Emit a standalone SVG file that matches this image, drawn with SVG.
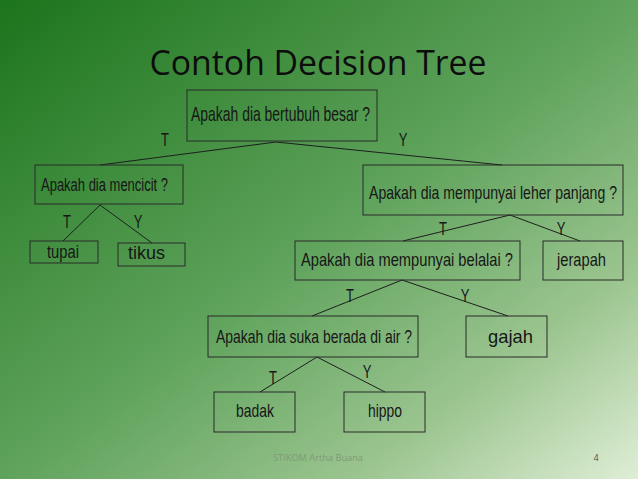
<svg xmlns="http://www.w3.org/2000/svg" width="638" height="479" viewBox="0 0 638 479">
<defs>
<linearGradient id="bg" x1="0" y1="0" x2="1" y2="1" gradientUnits="objectBoundingBox">
<stop offset="0" stop-color="#1c741c"/>
<stop offset="0.5" stop-color="#5fa35c"/>
<stop offset="0.78" stop-color="#9cc590"/>
<stop offset="1" stop-color="#dfeed6"/>
</linearGradient>
<style>
.box{fill:none;stroke:#2a2a2a;stroke-width:1}
.t{font-family:"Liberation Sans",Arial,sans-serif;fill:#161616;text-anchor:middle;font-size:14px}
.big{font-size:17px}
.lbl{font-family:"Liberation Sans",Arial,sans-serif;fill:#161616;text-anchor:middle;font-size:13px}
.ln{stroke:#1e1e1e;stroke-width:1;fill:none}
</style>
</defs>
<rect width="638" height="479" fill="url(#bg)"/>
<text x="318" y="75" font-family="'Open Sans','Liberation Sans',sans-serif" font-size="34" fill="#0d0d0d" text-anchor="middle" textLength="337" lengthAdjust="spacingAndGlyphs">Contoh Decision Tree</text>

<g id="connectors">
<path class="ln" d="M276,142 L100,165 M276,142 L502,165"/>
<path class="ln" d="M100,205 L63,241 M100,205 L152,243"/>
<path class="ln" d="M510,215 L403,241 M510,215 L580,241"/>
<path class="ln" d="M402,280 L312,316 M402,280 L508,316"/>
<path class="ln" d="M317,357 L260,392 M317,357 L385,392"/>
<text class="lbl" transform="translate(165,146) scale(1,1.4)">T</text>
<text class="lbl" transform="translate(403,146) scale(1,1.4)">Y</text>
<text class="lbl" transform="translate(67,228) scale(1,1.4)">T</text>
<text class="lbl" transform="translate(138,228) scale(1,1.4)">Y</text>
<text class="lbl" transform="translate(443,235) scale(1,1.4)">T</text>
<text class="lbl" transform="translate(561,235) scale(1,1.4)">Y</text>
<text class="lbl" transform="translate(350,302) scale(1,1.4)">T</text>
<text class="lbl" transform="translate(465,302) scale(1,1.4)">Y</text>
<text class="lbl" transform="translate(273,384) scale(1,1.4)">T</text>
<text class="lbl" transform="translate(367,378) scale(1,1.4)">Y</text>
</g>

<g id="n-root"><rect class="box" x="187" y="90" width="190" height="51"/><text class="t" transform="translate(280.5,121) scale(1,1.45)" textLength="179" lengthAdjust="spacingAndGlyphs">Apakah dia bertubuh besar ?</text></g>
<g id="n-mencicit"><rect class="box" x="35" y="165" width="148" height="39"/><text class="t" transform="translate(104.5,191) scale(1,1.35)" textLength="127" lengthAdjust="spacingAndGlyphs">Apakah dia mencicit ?</text></g>
<g id="n-tupai"><rect class="box" x="30" y="241" width="68" height="22"/><text class="t" transform="translate(63,258) scale(1,1.3)" textLength="32" lengthAdjust="spacingAndGlyphs">tupai</text></g>
<g id="n-tikus"><rect class="box" x="118" y="243" width="67" height="23"/><text class="t big" transform="translate(146.5,259) scale(1,1.1)" textLength="37" lengthAdjust="spacingAndGlyphs">tikus</text></g>
<g id="n-leher"><rect class="box" x="363" y="165" width="260" height="50"/><text class="t" transform="translate(493,199) scale(1,1.3)" textLength="248" lengthAdjust="spacingAndGlyphs">Apakah dia mempunyai leher panjang ?</text></g>
<g id="n-belalai"><rect class="box" x="295" y="241" width="225" height="39"/><text class="t" transform="translate(407,266) scale(1,1.3)" textLength="212" lengthAdjust="spacingAndGlyphs">Apakah dia mempunyai belalai ?</text></g>
<g id="n-jerapah"><rect class="box" x="543" y="241" width="80" height="39"/><text class="t" transform="translate(581.5,266) scale(1,1.3)" textLength="49" lengthAdjust="spacingAndGlyphs">jerapah</text></g>
<g id="n-air"><rect class="box" x="208" y="316" width="210" height="41"/><text class="t" transform="translate(314,343) scale(1,1.3)" textLength="196" lengthAdjust="spacingAndGlyphs">Apakah dia suka berada di air ?</text></g>
<g id="n-gajah"><rect class="box" x="466" y="316" width="81" height="41"/><text class="t big" transform="translate(510.5,343) scale(1,1.1)" textLength="45" lengthAdjust="spacingAndGlyphs">gajah</text></g>
<g id="n-badak"><rect class="box" x="214" y="392" width="81" height="40"/><text class="t" transform="translate(255,417) scale(1,1.3)" textLength="38" lengthAdjust="spacingAndGlyphs">badak</text></g>
<g id="n-hippo"><rect class="box" x="344" y="392" width="81" height="40"/><text class="t" transform="translate(385,417) scale(1,1.3)" textLength="34" lengthAdjust="spacingAndGlyphs">hippo</text></g>

<text x="318" y="461" font-family="'Open Sans','Liberation Sans',sans-serif" font-size="9" fill="#7f9a78" text-anchor="middle" textLength="90" lengthAdjust="spacingAndGlyphs">STIKOM Artha Buana</text>
<text x="596" y="461" font-family="'Open Sans','Liberation Sans',sans-serif" font-size="9" fill="#555" text-anchor="middle">4</text>
</svg>
